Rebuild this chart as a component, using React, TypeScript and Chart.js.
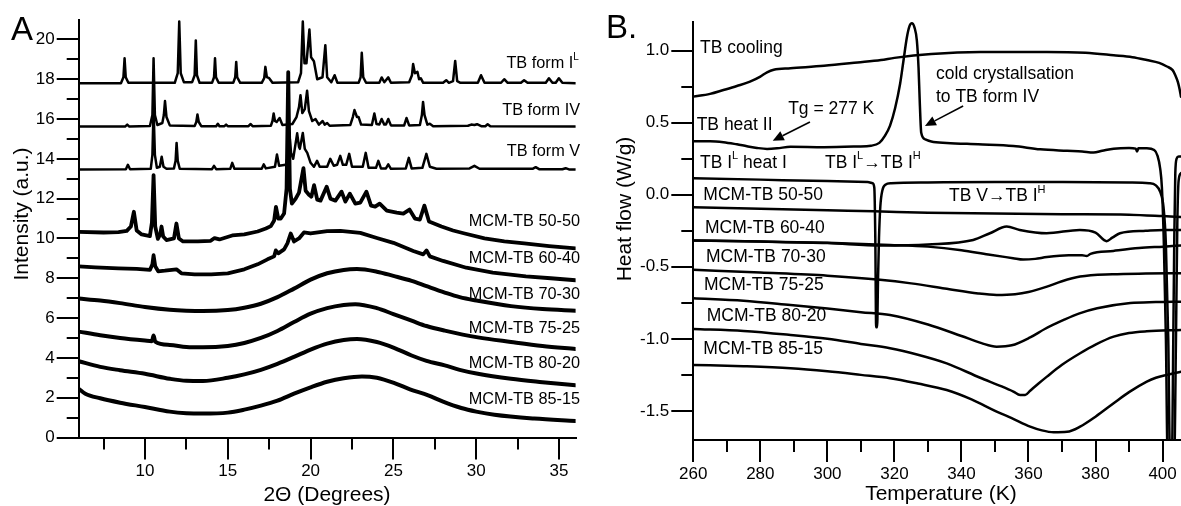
import React, { useEffect, useRef } from "react";
import { Chart, registerables } from "chart.js";

Chart.register(...registerables);

const FONT = '"Liberation Sans", Arial, Helvetica, sans-serif';
type P = [number, number];
type Seg = { t: string; sup?: boolean };

// ================= Panel A : XRD =================
const xrdXTicks = [10, 15, 20, 25, 30, 35];
const xrdXMinor = [7.5, 12.5, 17.5, 22.5, 27.5, 32.5];
const xrdYTicks = [0, 2, 4, 6, 8, 10, 12, 14, 16, 18, 20];
const xrdYMinor = [1, 3, 5, 7, 9, 11, 13, 15, 17, 19];

const formIL: P[] = [
  [6, 17.8], [8.55, 17.8], [8.7, 18.1], [8.77, 19.05], [8.84, 18.1], [9.0, 17.82],
  [11.8, 17.82], [11.98, 18.3], [12.07, 20.9], [12.16, 18.3], [12.35, 17.85],
  [12.85, 17.85], [13.0, 18.2], [13.07, 19.95], [13.14, 18.2], [13.3, 17.82],
  [14.05, 17.82], [14.17, 18.1], [14.23, 19.05], [14.29, 18.1], [14.45, 17.82],
  [15.33, 17.82], [15.45, 18.1], [15.51, 18.87], [15.57, 18.1], [15.75, 17.82],
  [17.05, 17.82], [17.2, 18.05], [17.27, 18.62], [17.36, 18.1], [17.5, 18.05], [17.7, 17.82],
  [19.25, 17.85], [19.42, 18.3], [19.53, 20.9], [19.63, 18.8], [19.75, 18.8], [19.93, 20.5],
  [20.03, 19.1], [20.2, 18.9], [20.4, 18.0], [20.72, 18.1], [20.89, 19.71], [21.0, 18.1],
  [21.25, 17.85], [21.45, 18.2], [21.62, 17.82],
  [22.9, 17.82], [23.02, 18.1], [23.09, 19.33], [23.18, 18.1], [23.35, 17.82],
  [24.15, 17.82], [24.29, 18.09], [24.45, 17.85], [24.69, 18.09], [24.85, 17.82],
  [25.95, 17.85], [26.12, 18.2], [26.19, 18.76], [26.3, 18.3], [26.45, 18.37], [26.55, 18.0],
  [26.65, 18.05], [26.8, 17.82],
  [28.0, 17.82], [28.19, 17.95], [28.35, 17.82], [28.6, 17.9], [28.73, 18.92], [28.85, 17.9], [29.05, 17.82],
  [30.1, 17.82], [30.29, 18.2], [30.5, 17.82],
  [31.5, 17.82], [31.69, 18.0], [31.9, 17.82],
  [32.7, 17.82], [32.89, 17.95], [33.1, 17.82],
  [34.2, 17.82], [34.39, 18.05], [34.6, 17.82], [34.8, 17.82], [34.99, 18.05], [35.2, 17.82],
  [36, 17.8],
];

const formIV: P[] = [
  [6, 15.62], [8.8, 15.62], [8.93, 15.72], [9.06, 15.62],
  [10.3, 15.65], [10.45, 16.2], [10.52, 19.05], [10.6, 16.2], [10.75, 15.7], [11.05, 15.8],
  [11.14, 16.2], [11.21, 16.9], [11.3, 16.1], [11.5, 15.68],
  [13.0, 15.65], [13.1, 15.85], [13.17, 16.23], [13.25, 15.85], [13.4, 15.64],
  [14.3, 15.64], [14.4, 15.76], [14.5, 15.64], [14.8, 15.64], [14.9, 15.72], [15.0, 15.64],
  [16.25, 15.64], [16.37, 15.75], [16.5, 15.64],
  [17.6, 15.66], [17.7, 15.9], [17.77, 16.28], [17.85, 15.9], [17.95, 15.85], [18.13, 16.05], [18.3, 15.7],
  [18.9, 15.75], [19.15, 16.1], [19.3, 16.6], [19.39, 17.2], [19.5, 16.3], [19.65, 16.5],
  [19.79, 17.42], [19.9, 16.4], [20.1, 15.9], [20.3, 16.0], [20.5, 15.72], [20.73, 15.9],
  [20.85, 15.72], [21.0, 15.8], [21.15, 15.66],
  [22.4, 15.7], [22.55, 16.1], [22.65, 16.45], [22.8, 16.1], [22.9, 16.1], [23.05, 15.72],
  [23.7, 15.7], [23.85, 16.28], [23.98, 15.75], [24.15, 15.72], [24.29, 16.0], [24.45, 15.72],
  [24.55, 15.72], [24.69, 16.0], [24.85, 15.68],
  [25.65, 15.68], [25.79, 16.05], [25.95, 15.68],
  [26.6, 15.7], [26.72, 16.2], [26.79, 16.86], [26.88, 16.2], [27.05, 15.72], [27.2, 15.76], [27.4, 15.64],
  [29.5, 15.66], [29.7, 15.72], [29.89, 15.7], [30.05, 15.74], [30.3, 15.64], [30.55, 15.64],
  [30.69, 15.74], [30.85, 15.64],
  [36, 15.62],
];

const formV: P[] = [
  [6, 13.47], [8.85, 13.48], [8.97, 13.7], [9.1, 13.48],
  [10.35, 13.5], [10.45, 14.2], [10.52, 16.5], [10.6, 14.2], [10.72, 13.55], [10.9, 13.6],
  [11.01, 14.1], [11.12, 13.6], [11.3, 13.5], [11.75, 13.52], [11.85, 13.9], [11.91, 14.8],
  [11.98, 13.9], [12.1, 13.5],
  [14.05, 13.48], [14.17, 13.65], [14.3, 13.48],
  [15.15, 13.5], [15.27, 13.8], [15.4, 13.5],
  [17.05, 13.5], [17.17, 13.72], [17.3, 13.52], [17.85, 13.6], [17.97, 14.22], [18.1, 13.65],
  [18.5, 13.7], [18.68, 14.3], [18.75, 15.0], [18.82, 14.3], [18.95, 14.0], [19.19, 15.28],
  [19.3, 14.6], [19.35, 14.5], [19.53, 15.3], [19.65, 14.5], [19.8, 14.3], [20.0, 13.8],
  [20.2, 13.6], [20.39, 13.9], [20.55, 13.6], [21.0, 13.6], [21.19, 14.0], [21.4, 13.65],
  [21.6, 13.7], [21.79, 14.15], [21.95, 13.7], [22.15, 13.7], [22.33, 14.25], [22.5, 13.6],
  [23.15, 13.6], [23.33, 14.3], [23.5, 13.55], [23.95, 13.55], [24.09, 13.9], [24.25, 13.52],
  [24.55, 13.52], [24.69, 13.72], [24.85, 13.5],
  [25.75, 13.52], [25.93, 14.05], [26.1, 13.52], [26.75, 13.55], [26.99, 14.25], [27.2, 13.6], [27.6, 13.5],
  [29.6, 13.52], [29.89, 13.65], [30.2, 13.5], [33.4, 13.5], [33.59, 13.58], [33.8, 13.48],
  [35.2, 13.48], [35.4, 13.53], [35.6, 13.47], [36, 13.47],
];

const mcm5050: P[] = [
  [6, 10.33], [7.5, 10.3], [8.4, 10.32], [8.9, 10.38], [9.15, 10.6], [9.33, 11.34], [9.5, 10.4],
  [9.8, 10.2], [10.3, 10.12], [10.42, 10.8], [10.52, 13.18], [10.62, 10.6], [10.78, 9.98],
  [10.92, 10.2], [11.0, 10.6], [11.1, 10.1], [11.3, 9.92], [11.75, 10.0], [11.9, 10.75],
  [12.05, 10.0], [12.3, 9.85], [13.2, 9.85], [13.97, 9.88], [14.2, 10.02], [14.5, 9.95],
  [15.27, 10.15], [16.0, 10.2], [16.8, 10.35], [17.3, 10.5], [17.6, 10.62], [17.8, 10.9],
  [17.91, 11.59], [18.05, 11.0], [18.2, 11.0], [18.4, 11.25], [18.55, 12.5], [18.65, 18.36],
  [18.75, 12.5], [18.87, 11.75], [19.1, 12.0], [19.3, 12.3], [19.57, 13.53], [19.7, 12.4],
  [19.9, 12.2], [20.05, 12.1], [20.21, 12.68], [20.4, 11.95], [20.6, 11.9], [20.97, 12.6],
  [21.2, 12.0], [21.5, 11.9], [21.87, 12.35], [22.1, 11.85], [22.37, 12.25], [22.7, 11.75],
  [23.0, 11.8], [23.37, 12.35], [23.65, 11.65], [23.9, 11.6], [24.17, 11.75], [24.6, 11.4],
  [25.2, 11.3], [25.6, 11.25], [25.97, 11.45], [26.3, 11.0], [26.6, 10.95], [26.87, 11.65],
  [27.15, 10.85], [27.9, 10.6], [28.6, 10.4], [29.3, 10.25], [30.5, 10.0], [31.7, 9.85],
  [32.9, 9.75], [34.4, 9.62], [36, 9.5],
];

const mcm6040: P[] = [
  [6, 8.6], [7.0, 8.55], [8.4, 8.5], [9.5, 8.47], [10.3, 8.42], [10.45, 8.7], [10.52, 9.16],
  [10.62, 8.6], [10.8, 8.35], [11.2, 8.38], [11.9, 8.45], [12.2, 8.25], [13.0, 8.2], [14.0, 8.2],
  [15.0, 8.25], [16.0, 8.45], [16.8, 8.7], [17.4, 8.95], [17.8, 9.1], [17.9, 9.4], [18.05, 9.25],
  [18.4, 9.45], [18.6, 9.75], [18.8, 10.25], [19.0, 9.85], [19.3, 10.0], [19.6, 10.3], [20.0, 10.25],
  [21.0, 10.37], [21.8, 10.38], [23.0, 10.28], [24.0, 10.02], [25.0, 9.78], [26.2, 9.37],
  [26.8, 9.2], [27.0, 9.4], [27.2, 9.1], [28.0, 8.87], [29.4, 8.53], [31.0, 8.28], [33.0, 8.1],
  [34.5, 8.0], [36, 7.9],
];

const mcm7030: P[] = [
  [6, 6.98], [7.3, 6.88], [8.5, 6.75], [10, 6.56], [11.5, 6.42], [12.5, 6.37], [13.5, 6.35],
  [15, 6.4], [16, 6.52], [17, 6.72], [18, 7.05], [19, 7.48], [20, 7.93], [21, 8.25], [22, 8.42],
  [22.8, 8.46], [24, 8.33], [25, 8.12], [26.1, 7.87], [27, 7.6], [28.1, 7.28], [29, 7.05],
  [30.1, 6.87], [32.1, 6.6], [34, 6.45], [36, 6.37],
];

const mcm7525: P[] = [
  [6, 5.32], [7.3, 5.14], [8.5, 5.0], [10, 4.87], [10.42, 4.84], [10.52, 5.12], [10.62, 4.82],
  [11.5, 4.65], [12.5, 4.55], [13.5, 4.53], [15, 4.6], [16, 4.75], [17, 5.0], [18, 5.35],
  [19, 5.8], [20, 6.22], [21, 6.5], [22, 6.66], [22.7, 6.7], [24, 6.5], [25, 6.2], [26.1, 5.87],
  [27, 5.6], [28.1, 5.37], [30.1, 5.03], [32.1, 4.8], [34, 4.6], [36, 4.45],
];

const mcm8020: P[] = [
  [6, 3.83], [7.3, 3.55], [8.5, 3.38], [10, 3.2], [11.5, 2.95], [12.5, 2.85], [13.5, 2.84],
  [15, 3.0], [16, 3.17], [17, 3.4], [18, 3.7], [19, 4.05], [20, 4.42], [21, 4.72], [22, 4.9],
  [22.8, 4.95], [24, 4.8], [25, 4.52], [26.1, 4.12], [27, 3.85], [28.1, 3.62], [29, 3.4],
  [30.1, 3.2], [32.1, 2.95], [34, 2.78], [36, 2.62],
];

const mcm8515: P[] = [
  [6, 2.45], [6.4, 2.2], [7.3, 1.97], [8.5, 1.75], [10, 1.53], [11.5, 1.3], [12.5, 1.22],
  [13.5, 1.2], [15, 1.25], [16, 1.4], [17, 1.6], [18, 1.85], [19, 2.2], [20, 2.52], [21, 2.8],
  [22, 2.98], [23.1, 3.07], [24, 3.0], [25.1, 2.72], [26, 2.42], [27.1, 2.12], [28, 1.8],
  [29.1, 1.48], [30, 1.3], [31.1, 1.14], [33.5, 0.95], [36, 0.83],
];

const xrdLabelText: Seg[][] = [
  [{ t: "TB form I" }, { t: "L", sup: true }],
  [{ t: "TB form IV" }],
  [{ t: "TB form V" }],
  [{ t: "MCM-TB 50-50" }],
  [{ t: "MCM-TB 60-40" }],
  [{ t: "MCM-TB 70-30" }],
  [{ t: "MCM-TB 75-25" }],
  [{ t: "MCM-TB 80-20" }],
  [{ t: "MCM-TB 85-15" }],
];
const xrdLabelX = [36.2, 36.27, 36.27, 36.27, 36.27, 36.27, 36.27, 36.27, 36.27];
const xrdLabelY = [18.78, 16.45, 14.35, 10.87, 9.01, 7.2, 5.49, 3.73, 1.92];

// ================= Panel B : DSC =================
const dscXTicks = [260, 280, 300, 320, 340, 360, 380, 400];
const dscXMinor = [270, 290, 310, 330, 350, 370, 390];
const dscYTicks = [-1.5, -1.0, -0.5, 0.0, 0.5, 1.0];
const dscYMinor = [-1.25, -0.75, -0.25, 0.25, 0.75];

const tbCooling: P[] = [
  [260, 0.681], [265, 0.7], [269, 0.727], [273, 0.755], [276.9, 0.785], [280, 0.82], [282, 0.85],
  [284, 0.868], [289, 0.878], [299, 0.895], [309, 0.918], [316, 0.935], [320, 0.95], [331, 0.977],
  [345.6, 0.991], [365.5, 0.991], [377, 0.985], [385.4, 0.968], [391, 0.955], [395.3, 0.935],
  [399, 0.915], [401.3, 0.89], [403, 0.865], [403.8, 0.83], [404.6, 0.78], [405.1, 0.73], [405.5, 0.68],
];

const tbHeatII: P[] = [
  [260, 0.372], [265, 0.372], [269, 0.365], [273, 0.35], [276, 0.337], [279, 0.325], [282, 0.318],
  [285, 0.322], [289, 0.333], [299, 0.33], [309, 0.335], [313, 0.34], [315.5, 0.36], [317.2, 0.41],
  [318.7, 0.48], [320.2, 0.6], [321.7, 0.77], [322.7, 0.93], [323.7, 1.09], [324.5, 1.17],
  [325.2, 1.19], [326, 1.16], [326.7, 1.07], [327.2, 0.88], [327.6, 0.62], [328, 0.43],
  [329.2, 0.385], [331, 0.37], [335.6, 0.36], [345, 0.35], [355.5, 0.338], [363.5, 0.315],
  [371.5, 0.305], [376, 0.3], [379.4, 0.293], [382, 0.305], [385.4, 0.32], [390, 0.325],
  [392, 0.32], [392.4, 0.3], [392.8, 0.322], [395.3, 0.322], [397.5, 0.31], [398.5, 0.27],
  [399.3, 0.18], [399.8, 0.05], [400.4, -0.35], [401, -1.0], [401.5, -1.8], [402.8, -1.8],
  [403.2, -1.0], [403.5, -0.3], [403.8, 0.15], [404.2, 0.25], [404.8, 0.265], [405.5, 0.265],
];

const tbHeatI: P[] = [
  [260, 0.115], [280, 0.105], [300, 0.095], [312, 0.088], [313.5, 0.08], [314, 0.05], [314.3, -0.3],
  [314.55, -0.92], [314.85, -0.92], [315.1, -0.6], [315.4, -0.3], [315.8, -0.08], [316.4, 0.03],
  [317.3, 0.07], [319, 0.08], [330, 0.085], [350, 0.088], [370, 0.088], [390, 0.085], [396, 0.08],
  [398, 0.065], [399.3, 0.02], [400.3, -0.09], [401, -0.35], [401.7, -1.0], [402.2, -1.8],
  [403.5, -1.8], [404, -1.0], [404.4, -0.2], [404.8, 0.1], [405.5, 0.15],
];

const dsc5050: P[] = [
  [260, -0.086], [280, -0.097], [300, -0.108], [314, -0.115], [330, -0.125], [350, -0.13],
  [370, -0.135], [390, -0.138], [400, -0.148], [405.5, -0.155],
];

// trace showing the TB V -> TB I(H) feature, running with the 60-40 trace below 316 K
const dscVtoIH: P[] = [
  [260, -0.317], [280, -0.325], [300, -0.335], [316, -0.352], [330, -0.345], [343.5, -0.314],
  [348.5, -0.267], [353.5, -0.221], [357.4, -0.244], [365.4, -0.267], [375.3, -0.244],
  [380, -0.262], [383.3, -0.322], [385, -0.298], [387.3, -0.267], [395, -0.25], [400.2, -0.244],
  [405.5, -0.245],
];

const dsc6040: P[] = [
  [260, -0.317], [280, -0.325], [300, -0.333], [318.7, -0.348], [330, -0.36], [340, -0.385],
  [348, -0.415], [355.4, -0.44], [358.4, -0.45], [362, -0.445], [365.5, -0.432], [372, -0.42],
  [376, -0.42], [377.4, -0.425], [378.5, -0.41], [385.3, -0.39], [393, -0.37], [400.2, -0.36],
  [405.5, -0.352],
];

const dsc7030: P[] = [
  [260, -0.52], [280, -0.54], [300, -0.562], [315.7, -0.59], [325, -0.615], [335, -0.65],
  [345, -0.685], [350.5, -0.695], [356, -0.69], [360, -0.675], [365.5, -0.638], [370, -0.6],
  [375.4, -0.568], [385, -0.552], [395, -0.547], [405.5, -0.545],
];

const dsc7525: P[] = [
  [260, -0.718], [275, -0.735], [289, -0.765], [300, -0.79], [310, -0.815], [318.7, -0.834],
  [330, -0.9], [340, -0.98], [346, -1.03], [350.5, -1.054], [355, -1.045], [360.5, -0.99],
  [365, -0.93], [370.5, -0.869], [375, -0.825], [380.5, -0.788], [390.4, -0.752], [398, -0.745],
  [405.5, -0.742],
];

const dsc8020: P[] = [
  [260, -0.931], [275, -0.945], [289, -0.973], [300, -1.0], [310, -1.035], [318.7, -1.065],
  [327, -1.11], [335.6, -1.17], [345.6, -1.27], [352, -1.33], [355.5, -1.366], [357.5, -1.39],
  [359, -1.39], [360.5, -1.36], [363, -1.31], [365.5, -1.262], [370, -1.18], [375.4, -1.1],
  [380, -1.04], [385.4, -0.985], [390, -0.96], [395.3, -0.948], [405.5, -0.938],
];

const dsc8515: P[] = [
  [260, -1.181], [275, -1.19], [289, -1.204], [300, -1.225], [310, -1.25], [318.7, -1.273],
  [327, -1.31], [335.6, -1.355], [343, -1.42], [350.5, -1.505], [355, -1.55], [360.5, -1.609],
  [364, -1.635], [367.5, -1.648], [371.5, -1.645], [375.4, -1.609], [380, -1.54], [385.4, -1.447],
  [390, -1.37], [395.3, -1.297], [398, -1.27], [401.3, -1.25], [405.5, -1.228],
];

const dscLabelText: Seg[][] = [
  [{ t: "TB cooling" }],
  [{ t: "TB heat II" }],
  [{ t: "TB I" }, { t: "L", sup: true }, { t: " heat I" }],
  [{ t: "MCM-TB 50-50" }],
  [{ t: "MCM-TB 60-40" }],
  [{ t: "MCM-TB 70-30" }],
  [{ t: "MCM-TB 75-25" }],
  [{ t: "MCM-TB 80-20" }],
  [{ t: "MCM-TB 85-15" }],
  [{ t: "Tg = 277 K" }],
  [{ t: "TB I" }, { t: "L", sup: true }, { t: "\u2192TB I" }, { t: "H", sup: true }],
  [{ t: "cold crystallsation" }],
  [{ t: "to TB form IV" }],
  [{ t: "TB V\u2192TB I" }, { t: "H", sup: true }],
];
const dscLabelX = [262.0, 261.0, 262.0, 263.0, 263.5, 263.8, 263.2, 264.0, 263.0, 288.3, 299.3, 332.4, 332.4, 336.3];
const dscLabelY = [1.019, 0.484, 0.22, 0.0, -0.234, -0.43, -0.626, -0.841, -1.073, 0.595, 0.22, 0.838, 0.679, -0.01];

// arrows: [fromX, fromY, toX, toY] in data units
const dscArrows: number[][] = [
  [294.8, 0.505, 283.7, 0.375],
  [340.5, 0.616, 329.1, 0.477],
];

// ================= helpers =================
function ds(points: P[], width: number, smooth: boolean) {
  return {
    data: points.map(([x, y]) => ({ x, y })),
    borderColor: "#000",
    backgroundColor: "#000",
    borderWidth: width,
    pointRadius: 0,
    pointHoverRadius: 0,
    tension: 0,
    cubicInterpolationMode: smooth ? "monotone" : "default",
    fill: false,
    borderJoinStyle: "round",
    borderCapStyle: "round",
  } as any;
}

function drawRich(ctx: CanvasRenderingContext2D, segs: Seg[], x: number, y: number, size: number, align: "left" | "right") {
  const supSize = Math.round(size * 0.62);
  let w = 0;
  for (const s of segs) {
    ctx.font = `${s.sup ? supSize : size}px ${FONT}`;
    w += ctx.measureText(s.t).width;
  }
  let cx = align === "right" ? x - w : x;
  ctx.textAlign = "left";
  ctx.textBaseline = "middle";
  ctx.fillStyle = "#000";
  for (const s of segs) {
    ctx.font = `${s.sup ? supSize : size}px ${FONT}`;
    ctx.fillText(s.t, cx, s.sup ? y - size * 0.38 : y);
    cx += ctx.measureText(s.t).width;
  }
}

function arrow(ctx: CanvasRenderingContext2D, x1: number, y1: number, x2: number, y2: number) {
  const ang = Math.atan2(y2 - y1, x2 - x1);
  const hl = 11, hw = 5;
  const bx = x2 - hl * Math.cos(ang), by = y2 - hl * Math.sin(ang);
  ctx.save();
  ctx.strokeStyle = "#000";
  ctx.fillStyle = "#000";
  ctx.lineWidth = 1.6;
  ctx.beginPath();
  ctx.moveTo(x1, y1);
  ctx.lineTo(bx, by);
  ctx.stroke();
  ctx.beginPath();
  ctx.moveTo(x2, y2);
  ctx.lineTo(bx + hw * Math.sin(ang), by - hw * Math.cos(ang));
  ctx.lineTo(bx - hw * Math.sin(ang), by + hw * Math.cos(ang));
  ctx.closePath();
  ctx.fill();
  ctx.restore();
}

function axis(min: number, max: number, ticks: number[], fmt: (v: number) => string, isX: boolean, size: number) {
  return {
    type: "linear",
    min,
    max,
    afterBuildTicks: (s: any) => {
      s.ticks = ticks.map((v) => ({ value: v }));
    },
    afterFit: (s: any) => {
      if (isX) s.height = size;
      else s.width = size;
    },
    grid: {
      display: true,
      drawOnChartArea: false,
      drawTicks: true,
      tickLength: 22,
      tickWidth: 2,
      tickColor: "#000",
      color: "#000",
      lineWidth: 2,
    },
    border: { display: true, color: "#000", width: 2 },
    ticks: {
      padding: 2,
      color: "#000",
      font: { family: FONT, size: 17 },
      maxRotation: 0,
      autoSkip: false,
      callback: (v: any) => fmt(Number(v)),
    },
  } as any;
}

function minorTicksPlugin(xs: number[], ys: number[]) {
  return {
    id: "minorTicks",
    afterDraw(chart: any) {
      const { ctx, chartArea, scales } = chart;
      ctx.save();
      ctx.strokeStyle = "#000";
      ctx.lineWidth = 2;
      for (const v of xs) {
        const px = Math.round(scales.x.getPixelForValue(v));
        ctx.beginPath();
        ctx.moveTo(px, chartArea.bottom);
        ctx.lineTo(px, chartArea.bottom + 12);
        ctx.stroke();
      }
      for (const v of ys) {
        const py = Math.round(scales.y.getPixelForValue(v));
        ctx.beginPath();
        ctx.moveTo(chartArea.left, py);
        ctx.lineTo(chartArea.left - 12, py);
        ctx.stroke();
      }
      ctx.restore();
    },
  };
}

function drawTitle(ctx: CanvasRenderingContext2D, text: string, x: number, y: number, size: number, rotate: boolean) {
  ctx.save();
  ctx.fillStyle = "#000";
  ctx.font = `${size}px ${FONT}`;
  ctx.textAlign = "center";
  ctx.textBaseline = "middle";
  ctx.translate(x, y);
  if (rotate) ctx.rotate(-Math.PI / 2);
  ctx.fillText(text, 0, 0);
  ctx.restore();
}

const W_A = 590;
const W_B = 591;
const H = 506;

export default function App() {
  const refA = useRef<HTMLCanvasElement | null>(null);
  const refB = useRef<HTMLCanvasElement | null>(null);

  useEffect(() => {
    if (!refA.current || !refB.current) return;

    const textA = {
      id: "textA",
      afterDraw(chart: any) {
        const { ctx, scales } = chart;
        ctx.save();
        xrdLabelText.forEach((segs, i) => {
          drawRich(ctx, segs, scales.x.getPixelForValue(xrdLabelX[i]), scales.y.getPixelForValue(xrdLabelY[i]), 16.3, "right");
        });
        drawTitle(ctx, "2\u0398 (Degrees)", 327, 495, 21, false);
        drawTitle(ctx, "Intensity (a.u.)", 22.5, 214, 21, true);
        ctx.font = `33px ${FONT}`;
        ctx.textAlign = "left";
        ctx.textBaseline = "middle";
        ctx.fillStyle = "#000";
        ctx.fillText("A", 11, 31);
        ctx.restore();
      },
    };

    const textB = {
      id: "textB",
      afterDraw(chart: any) {
        const { ctx, scales } = chart;
        ctx.save();
        dscLabelText.forEach((segs, i) => {
          drawRich(ctx, segs, scales.x.getPixelForValue(dscLabelX[i]), scales.y.getPixelForValue(dscLabelY[i]), 17.5, "left");
        });
        dscArrows.forEach((a) => {
          arrow(
            ctx,
            scales.x.getPixelForValue(a[0]),
            scales.y.getPixelForValue(a[1]),
            scales.x.getPixelForValue(a[2]),
            scales.y.getPixelForValue(a[3])
          );
        });
        drawTitle(ctx, "Temperature (K)", 351, 494, 21, false);
        drawTitle(ctx, "Heat flow (W/g)", 35, 209, 21, true);
        ctx.font = `33px ${FONT}`;
        ctx.textAlign = "left";
        ctx.textBaseline = "middle";
        ctx.fillStyle = "#000";
        ctx.fillText("B.", 16, 29);
        ctx.restore();
      },
    };

    const chartA = new Chart(refA.current, {
      type: "line",
      data: {
        datasets: [
          ds(formIL, 2.5, false),
          ds(formIV, 2.5, false),
          ds(formV, 2.5, false),
          ds(mcm5050, 3.8, false),
          ds(mcm6040, 3.8, false),
          ds(mcm7030, 4, true),
          ds(mcm7525, 4, true),
          ds(mcm8020, 4, true),
          ds(mcm8515, 4, true),
        ],
      },
      options: {
        responsive: false,
        animation: false,
        devicePixelRatio: 1,
        layout: { padding: { left: 0, top: 19.5, right: W_A - 575.6, bottom: 0 } },
        plugins: { legend: { display: false }, tooltip: { enabled: false } },
        events: [],
        scales: {
          x: axis(6, 36, xrdXTicks, (v) => String(v), true, H - 437.5),
          y: axis(0, 21, xrdYTicks, (v) => String(v), false, 78.7),
        },
      } as any,
      plugins: [minorTicksPlugin(xrdXMinor, xrdYMinor), textA],
    });

    const chartB = new Chart(refB.current, {
      type: "line",
      data: {
        datasets: [
          ds(tbCooling, 2.5, true),
          ds(tbHeatII, 2.5, true),
          ds(tbHeatI, 2.5, true),
          ds(dsc5050, 2.5, true),
          ds(dscVtoIH, 2.5, true),
          ds(dsc6040, 2.5, true),
          ds(dsc7030, 2.5, true),
          ds(dsc7525, 2.5, true),
          ds(dsc8020, 2.5, true),
          ds(dsc8515, 2.5, true),
        ],
      },
      options: {
        responsive: false,
        animation: false,
        devicePixelRatio: 1,
        layout: { padding: { left: 0, top: 21.7, right: 0, bottom: 0 } },
        plugins: { legend: { display: false }, tooltip: { enabled: false } },
        events: [],
        scales: {
          x: axis(260, 405.5, dscXTicks, (v) => String(v), true, H - 440),
          y: axis(-1.702, 1.201, dscYTicks, (v) => v.toFixed(1), false, 693.3 - 590),
        },
      } as any,
      plugins: [minorTicksPlugin(dscXMinor, dscYMinor), textB],
    });

    return () => {
      chartA.destroy();
      chartB.destroy();
    };
  }, []);

  return (
    <div style={{ position: "fixed", left: 0, top: 0, width: W_A + W_B, height: H, background: "#fff" }}>
      <canvas ref={refA} width={W_A} height={H} style={{ position: "absolute", left: 0, top: 0, width: W_A, height: H }} />
      <canvas ref={refB} width={W_B} height={H} style={{ position: "absolute", left: W_A, top: 0, width: W_B, height: H }} />
    </div>
  );
}
